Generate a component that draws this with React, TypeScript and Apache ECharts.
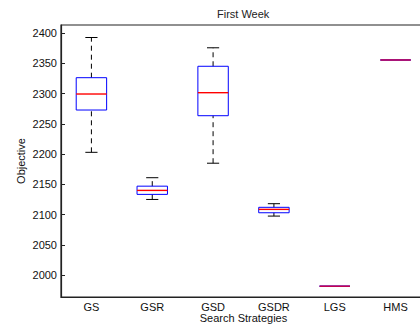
import React, { useEffect, useRef } from "react";
import * as echarts from "echarts";

const categories = ["GS", "GSR", "GSD", "GSDR", "LGS", "HMS"];
const lowerWhisker = [2203, 2125, 2185, 2097.5, 1981.5, 2355.8];
const q1 = [2273, 2133.4, 2263.6, 2103, 1981.5, 2355.8];
const median = [2299.5, 2140, 2301.7, 2108.6, 1981.5, 2355.8];
const q3 = [2326.5, 2147, 2345.4, 2112, 1981.5, 2355.8];
const upperWhisker = [2393, 2161, 2376, 2118, 1981.5, 2355.8];
const yTicks = [2000, 2050, 2100, 2150, 2200, 2250, 2300, 2350, 2400];

const FONT = "'Liberation Sans', Arial, Helvetica, sans-serif";

export default function App() {
  const ref = useRef<HTMLDivElement>(null);
  useEffect(() => {
    if (!ref.current) return;
    const chart = echarts.init(ref.current, null, { renderer: "svg" });
    const data = categories.map((_, i) => [i, lowerWhisker[i], q1[i], median[i], q3[i], upperWhisker[i]]);
    chart.setOption({
      animation: false,
      backgroundColor: "#fff",
      textStyle: { fontFamily: FONT },
      title: {
        text: "First Week",
        left: 217,
        top: 8,
        padding: 0,
        textStyle: { fontSize: 11, fontWeight: "normal", color: "#222", fontFamily: FONT },
      },
      grid: {
        left: 61,
        right: 14,
        top: 25,
        bottom: 27,
        outerBoundsMode: "none",
        containLabel: false,
        show: true,
        borderColor: "#222",
        borderWidth: 1.2,
        backgroundColor: "transparent",
      },
      xAxis: {
        type: "category",
        data: categories,
        boundaryGap: true,
        axisLine: { show: true, lineStyle: { color: "#222", width: 1.2 } },
        axisTick: { show: false },
        axisLabel: { fontSize: 11, color: "#111", margin: 4, fontFamily: FONT },
        splitLine: { show: false },
        name: "Search Strategies",
        nameLocation: "middle",
        nameGap: 15,
        nameMoveOverlap: false,
        nameTextStyle: { fontSize: 11, color: "#111", fontFamily: FONT },
      },
      yAxis: {
        type: "value",
        min: 1963.6,
        max: 2413.7,
        axisLine: { show: true, lineStyle: { color: "#222", width: 1.2 } },
        axisTick: { show: true, inside: true, length: 4, customValues: yTicks, lineStyle: { color: "#222" } },
        axisLabel: {
          fontSize: 11,
          color: "#111",
          margin: 4,
          customValues: yTicks,
          fontFamily: FONT,
          formatter: (v: number) => String(v),
        },
        splitLine: { show: false },
        name: "Objective",
        nameLocation: "middle",
        nameGap: 35,
        nameMoveOverlap: false,
        nameTextStyle: { fontSize: 11, color: "#111", fontFamily: FONT },
      },
      series: [
        {
          type: "custom",
          data,
          encode: { x: 0, y: [1, 2, 3, 4, 5] },
          renderItem: (params: any, api: any) => {
            const idx = api.value(0);
            const lo = api.coord([idx, api.value(1)]);
            const b1 = api.coord([idx, api.value(2)]);
            const md = api.coord([idx, api.value(3)]);
            const b3 = api.coord([idx, api.value(4)]);
            const hi = api.coord([idx, api.value(5)]);
            const band = api.size([1, 0])[0];
            const bw = band * 0.5;
            const cw = band * 0.2;
            const x = lo[0];
            const children: any[] = [];
            if (hi[1] < b3[1]) {
              children.push({
                type: "line",
                shape: { x1: x, y1: b3[1], x2: x, y2: hi[1] },
                style: { stroke: "#000", lineWidth: 1, lineDash: [5, 4] },
              });
              children.push({
                type: "line",
                shape: { x1: x, y1: lo[1], x2: x, y2: b1[1] },
                style: { stroke: "#000", lineWidth: 1, lineDash: [5, 4] },
              });
              children.push({
                type: "line",
                shape: { x1: x - cw / 2, y1: hi[1], x2: x + cw / 2, y2: hi[1] },
                style: { stroke: "#000", lineWidth: 1 },
              });
              children.push({
                type: "line",
                shape: { x1: x - cw / 2, y1: lo[1], x2: x + cw / 2, y2: lo[1] },
                style: { stroke: "#000", lineWidth: 1 },
              });
            }
            children.push({
              type: "rect",
              shape: { x: x - bw / 2, y: b3[1], width: bw, height: Math.max(b1[1] - b3[1], 0) },
              style: { stroke: "#0000ff", fill: "none", lineWidth: 1 },
            });
            children.push({
              type: "line",
              shape: { x1: x - bw / 2, y1: md[1], x2: x + bw / 2, y2: md[1] },
              style: { stroke: hi[1] < b3[1] ? "#ff0000" : "#d8003c", lineWidth: 1.4 },
            });
            return { type: "group", children };
          },
        },
      ],
    });
    return () => chart.dispose();
  }, []);
  return (
    <div
      ref={ref}
      style={{ position: "fixed", left: 0, top: 0, width: 440, height: 324, background: "#fff" }}
    />
  );
}
